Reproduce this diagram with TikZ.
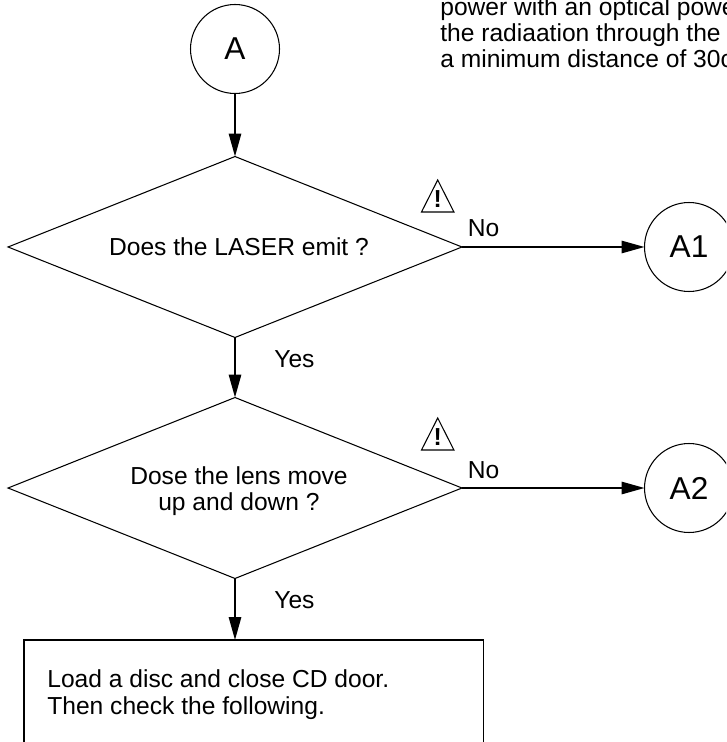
\documentclass[tikz,border=0pt]{standalone}
\usepackage{fontspec}
\setmainfont{Liberation Sans}
\usetikzlibrary{arrows.meta}
\usetikzlibrary{shapes.geometric}
\tikzset{
	decision/.style={draw, diamond, aspect=2.5, inner sep=0pt, outer sep=0pt, minimum width=9.08cm, minimum height=3.62cm, line width=0.6pt},
	connector/.style={draw, circle, inner sep=0pt, outer sep=0pt, minimum size=1.78cm, line width=0.6pt, font=\fontsize{18}{20}\selectfont},
	flow/.style={line width=1pt, -{Triangle[length=13pt, width=7pt]}},
	plain/.style={inner sep=0pt, anchor=base west},
	warnsign/.style={line width=0.6pt, line join=miter},
}
\begin{document}
\begin{tikzpicture}[x=0.02cm, y=-0.02cm, font=\fontsize{14}{14.75}\selectfont]
	\useasboundingbox (0, 0) rectangle (726, 742);
	\clip (0, 0) rectangle (726, 742);

	% top note, runs off the page
	\node[plain] (notea) at (440, 16) {power with an optical power};
	\node[plain] (noteb) at (440, 42) {the radiaation through the l};
	\node[plain] (notec) at (440, 68) {a minimum distance of 30c};

	\node[connector] (a) at (235, 49) {A};
	\node[decision] (laser) at (235, 247) {};
	\node[decision] (lens) at (235, 488) {};
	\node[connector] (aone) at (689, 247) {A1};
	\node[connector] (atwo) at (689, 488) {A2};
	\node[draw, anchor=north west, inner sep=0pt, outer sep=0pt, minimum width=9.2cm, minimum height=3cm, line width=0.6pt] (box) at (24, 640) {};
	\coordinate (boxin) at (235, 640);

	\node[inner sep=0pt] (lasertext) at (239, 247) {Does the LASER emit ?};
	\node[inner sep=0pt, align=center] (lenstext) at (239, 491) {Dose the lens move\\up and down ?};
	\node[plain] (loada) at (47, 687) {Load a disc and close CD door.};
	\node[plain] (loadb) at (47, 714) {Then check the following.};

	\draw[flow] (a) -- (laser);
	\draw[flow] (laser) -- (lens);
	\draw[flow] (lens) -- (boxin);
	\draw[flow] (laser) -- (aone);
	\draw[flow] (lens) -- (atwo);

	\node[plain] (noa) at (467.5, 237) {No};
	\node[plain] (nob) at (467.5, 478) {No};
	\node[plain] (yesa) at (274, 367) {Yes};
	\node[plain] (yesb) at (274, 608) {Yes};

	% warning signs
	\draw[warnsign] (437.7, 180) -- (421.5, 212) -- (453.9, 212) -- cycle;
	\draw[warnsign] (437.7, 418) -- (421.5, 450) -- (453.9, 450) -- cycle;
	\node[inner sep=0pt, font=\fontsize{14}{15}\bfseries\selectfont] (warna) at (437.7, 199) {!};
	\node[inner sep=0pt, font=\fontsize{14}{15}\bfseries\selectfont] (warnb) at (437.7, 437) {!};
\end{tikzpicture}
\end{document}
